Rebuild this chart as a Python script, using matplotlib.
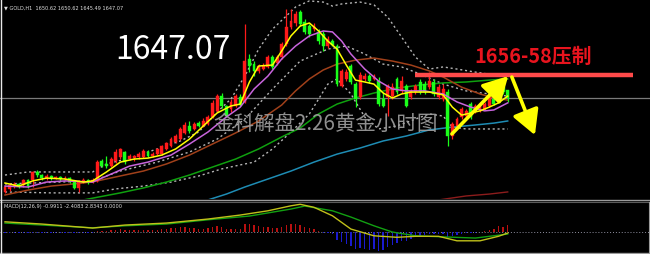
import matplotlib
matplotlib.use('Agg')
import matplotlib.pyplot as plt
import numpy as np

# ---------------- data (GOLD H1) ----------------
open_ = [1607.3,1608.6,1609.8,1610.7,1610.3,1612.4,1612.4,1615.8,1614.5,1613.2,
         1614.1,1613.2,1613.7,1612.8,1613.2,1612.0,1609.0,1611.5,1612.4,1611.5,
         1612.0,1620.5,1619.2,1618.3,1620.5,1622.2,1624.3,1621.3,1621.7,1622.2,
         1622.2,1624.3,1622.6,1623.4,1623.4,1625.6,1626.9,1628.6,1629.8,1632.4,
         1635.4,1634.1,1636.6,1635.4,1636.2,1639.2,1641.8,1648.1,1643.9,1642.6,
         1643.9,1647.7,1645.6,1663.9,1661.7,1658.8,1659.6,1660.5,1664.7,1662.2,
         1664.7,1670.3,1677.5,1679.2,1683.9,1679.6,1677.9,1676.6,1675.4,1674.5,
         1669.4,1671.5,1669.4,1652.4,1655.4,1660.9,1653.2,1647.7,1655.4,1656.6,
         1655.4,1654.5,1646.9,1647.7,1648.1,1655.4,1650.3,1652.4,1647.7,1649.8,
         1654.1,1653.2,1651.9,1654.1,1647.7,1646.9,1649.8,1631.1,1635.4,1639.2,
         1639.6,1644.7,1641.8,1641.8,1642.6,1643.9,1646.9,1645.6,1651.9,1650.62]
high = [1610.3,1611.1,1611.5,1611.1,1612.8,1612.8,1616.2,1616.6,1614.9,1614.9,
        1614.5,1614.1,1614.1,1614.1,1613.7,1612.4,1612.4,1613.2,1612.8,1613.2,
        1620.9,1621.3,1622.6,1622.2,1625.6,1626.0,1624.7,1623.4,1623.0,1624.3,
        1625.6,1625.2,1624.3,1626.0,1627.3,1628.6,1630.7,1631.9,1634.9,1637.1,
        1637.5,1637.1,1637.5,1638.8,1640.0,1646.4,1649.0,1649.4,1644.3,1646.9,
        1649.0,1649.0,1678.8,1666.0,1663.0,1661.7,1662.2,1665.6,1665.6,1665.6,
        1671.1,1685.2,1685.2,1684.3,1684.7,1680.9,1678.8,1679.2,1676.6,1675.8,
        1673.7,1672.4,1670.3,1659.6,1659.6,1661.7,1654.1,1658.3,1657.9,1657.5,
        1657.5,1656.2,1649.8,1653.2,1653.7,1656.2,1656.6,1653.2,1651.1,1653.2,
        1655.4,1654.5,1658.3,1655.4,1653.2,1653.2,1651.1,1637.1,1639.2,1643.4,
        1642.6,1645.6,1644.7,1645.2,1645.6,1648.6,1647.7,1653.2,1652.8,1650.62]
low = [1606.9,1607.7,1609.0,1609.0,1609.4,1609.0,1609.4,1613.7,1612.4,1612.4,
       1612.4,1612.8,1612.0,1612.4,1611.1,1608.6,1607.3,1611.1,1610.7,1611.1,
       1611.5,1617.9,1617.5,1617.9,1619.6,1621.3,1619.2,1620.9,1620.5,1621.3,
       1621.7,1622.2,1622.2,1623.0,1623.0,1625.2,1626.4,1628.1,1629.4,1631.9,
       1632.4,1633.7,1634.9,1634.9,1635.8,1638.8,1641.3,1643.0,1639.2,1641.3,
       1643.4,1643.9,1645.2,1658.3,1656.6,1657.9,1659.2,1660.0,1659.6,1661.3,
       1663.9,1669.4,1676.6,1677.9,1677.9,1674.5,1673.2,1675.8,1670.3,1667.3,
       1668.6,1669.4,1652.4,1651.9,1654.5,1653.2,1643.4,1646.9,1654.5,1653.7,
       1654.9,1643.9,1643.4,1639.6,1646.9,1649.0,1649.4,1643.4,1646.9,1649.0,
       1649.0,1649.0,1651.1,1648.1,1646.9,1646.0,1626.9,1629.8,1634.5,1638.3,
       1638.8,1638.3,1640.9,1641.3,1642.2,1643.4,1644.3,1645.2,1649.0,1645.49]
close = [1609.4,1610.3,1610.7,1609.8,1612.4,1609.8,1615.8,1614.5,1613.2,1614.1,
         1613.2,1613.7,1612.8,1613.2,1612.0,1609.0,1611.5,1612.4,1611.5,1612.4,
         1620.0,1618.3,1618.3,1621.3,1624.3,1625.6,1620.0,1622.6,1622.6,1623.4,
         1624.7,1622.6,1623.4,1625.6,1626.9,1628.1,1629.8,1631.1,1634.1,1635.8,
         1633.2,1636.2,1635.4,1637.5,1639.2,1645.2,1648.1,1643.9,1639.6,1645.6,
         1648.1,1644.3,1663.0,1660.9,1658.8,1660.9,1660.9,1664.7,1660.5,1664.7,
         1670.3,1677.5,1680.0,1683.0,1678.8,1675.4,1674.5,1677.9,1671.5,1669.4,
         1672.4,1669.8,1653.2,1658.8,1658.3,1654.1,1646.9,1657.1,1656.6,1654.5,
         1656.6,1644.7,1643.9,1652.4,1651.9,1649.8,1654.5,1643.9,1650.3,1652.4,
         1649.8,1649.8,1654.5,1649.0,1651.9,1651.1,1631.1,1636.2,1638.3,1642.6,
         1641.8,1639.2,1643.9,1643.9,1644.7,1647.7,1644.7,1652.4,1649.8,1647.07]

# moving averages (bar index, price)
ma_fast_idx = [0,3,6,9,13,17,19,22,25,28,31,34,37,40,43,46,49,51,53,55,58,60,62,64,66,68,70,72,74,76,78,80,82,84,86,88,92,95,97,99,101,103,105,107,109]
ma_fast = [1611.1,1609.8,1612.0,1613.2,1612.8,1611.5,1612.0,1615.8,1620.0,1621.3,1621.7,1623.0,1625.6,1629.8,1635.4,1640.9,1643.9,1644.7,1654.1,1660.9,1661.3,1667.3,1673.7,1677.9,1679.2,1675.8,1671.5,1668.1,1661.3,1654.9,1654.1,1653.2,1649.4,1647.3,1649.0,1649.8,1649.8,1648.6,1643.4,1640.0,1640.9,1641.8,1643.4,1645.2,1648.1]
ma_mid_idx = [0,5,9,13,19,23,27,31,36,40,44,48,51,54,57,60,63,66,69,71,73,75,78,81,84,87,91,95,98,101,104,106,109]
ma_mid = [1609.8,1609.4,1611.5,1612.0,1611.5,1614.9,1618.3,1620.0,1623.0,1627.7,1632.8,1639.2,1643.4,1651.1,1656.6,1663.9,1669.4,1673.7,1675.8,1675.4,1671.5,1666.0,1659.6,1654.5,1651.1,1650.3,1650.3,1649.0,1645.6,1643.4,1641.8,1642.2,1645.2]
ma_brown_idx = [0,5,10,17,20,25,30,35,40,45,50,55,60,63,66,69,72,76,80,84,88,92,95,99,103,106,109]
ma_brown = [1606.0,1608.1,1609.8,1611.1,1612.0,1614.1,1616.2,1619.2,1623.0,1627.7,1632.4,1637.5,1644.3,1650.3,1655.4,1659.2,1661.7,1663.4,1664.3,1663.0,1661.3,1658.8,1656.2,1651.9,1649.0,1647.3,1646.4]
ma_green_idx = [17,25,30,35,40,45,50,55,60,64,68,72,76,80,85,90,95,100,105,109]
ma_green = [1603.9,1606.9,1609.0,1611.5,1614.5,1617.9,1621.3,1625.6,1630.7,1634.5,1640.5,1644.7,1647.3,1649.4,1651.5,1652.8,1653.7,1654.1,1654.9,1655.4]
ma_teal_idx = [44,48,52,57,62,67,72,77,82,87,92,97,102,106,109]
ma_teal = [1603.9,1606.4,1609.4,1612.8,1616.2,1620.0,1623.4,1626.0,1629.0,1631.1,1633.7,1634.9,1635.8,1636.6,1637.5]
ma_dred_idx = [94,100,105,109]
ma_dred = [1603.9,1605.6,1606.4,1607.3]

bb_up_idx = [0,5,10,15,19,22,27,33,38,42,46,49,52,55,58,61,63,66,69,71,73,77,80,83,86,89,92,95,98,102,106,109]
bb_up = [1614.5,1615.8,1615.8,1615.8,1615.8,1619.2,1621.7,1625.6,1629.0,1632.8,1641.3,1646.9,1656.6,1668.1,1676.6,1682.2,1686.0,1688.6,1688.1,1686.4,1687.3,1688.1,1686.9,1681.7,1673.2,1664.7,1659.6,1660.5,1659.6,1658.3,1657.1,1656.6]
bb_mid_idx = [0,19,25,33,40,46,52,58,64,70,74,78,82,86,90,95,100,105,109]
bb_mid = [1610.7,1612.0,1616.2,1620.0,1624.3,1629.8,1638.3,1651.1,1663.0,1668.1,1669.4,1666.0,1661.7,1660.5,1657.5,1653.2,1650.3,1649.0,1648.1]
bb_lo_idx = [0,10,19,24,30,36,42,47,51,54,58,62,66,70,72,75,78,81,85,89,92,95,97,100,105,109]
bb_lo = [1607.3,1606.9,1606.9,1608.6,1609.8,1611.5,1614.1,1617.1,1618.8,1620.0,1625.6,1632.8,1640.5,1653.2,1655.4,1649.0,1639.2,1634.1,1635.4,1638.3,1640.5,1639.6,1634.9,1634.1,1634.1,1634.1]

# MACD(12,26,9)
macd_main_idx = [0,8,19,26,35,44,51,57,62,64,67,71,75,80,85,89,94,98,103,107,109]
macd_main = [4.2,3.3,1.7,2.9,3.7,5.3,6.9,8.6,10.6,11.2,10.0,6.6,1.3,-1.4,-2.0,-1.6,-1.6,-3.4,-3.4,-1.6,-0.3]
macd_sig_idx = [0,8,19,26,35,44,53,62,65,71,75,80,84,89,96,102,109]
macd_sig = [3.7,2.9,1.8,2.6,3.3,5.0,6.5,9.3,10.5,8.6,6.1,2.6,0.1,-1.4,-1.9,-2.3,-0.7]
macd_hist = [-0.3]*20 + [0.4,0.4,0.6,0.8,1.0,1.2,0.8,0.8,0.8,0.8,
             1.0,0.8,0.8,1.0,1.2,1.4,1.6,1.8,2.0,2.0,
             1.6,1.6,1.4,1.4,1.6,2.0,2.4,2.0,1.2,1.2,
             1.4,1.2,3.2,3.2,2.8,2.4,2.0,2.0,1.6,1.6,
             2.0,2.8,3.2,3.2,2.8,2.0,1.6,1.2,0.4,-0.4,
             -0.4,-0.8,-3.2,-4.0,-4.8,-5.6,-6.8,-6.4,-6.8,-7.2,
             -6.8,-7.6,-7.2,-6.0,-5.2,-4.4,-3.6,-3.6,-2.8,-2.0,
             -1.6,-1.2,-0.8,-0.8,-0.8,-0.8,-2.0,-1.6,-1.2,-0.8,
             -0.4,-0.4,-0.2,0.2,0.4,0.8,1.2,2.4,2.0,2.8]

resist_price = 1657.1
watermark = "金科解盘2.26黄金小时图"
big_label = "1647.07"
resist_label = "1656-58压制"
info_label = "▼ GOLD,H1  1650.62 1650.62 1645.49 1647.07"
macd_label = "MACD(12,26,9) -0.9911 -2.4083 2.8343 0.0000"

# ---------------- figure ----------------
W, H = 650, 255
fig = plt.figure(figsize=(6.5, 2.55), dpi=100, facecolor='black')

n = len(close)
idx = np.arange(n)
step = 4.612
x0 = 5.0
xlim = (-x0 / step, (W - x0) / step)

ax = fig.add_axes([0, 1 - 200 / H, 1, 200 / H])
ax.set_facecolor('black')
ax.set_xlim(*xlim)
ax.set_ylim(1604.3, 1689.41)
ax.axis('off')

axm = fig.add_axes([0, 2 / H, 1, 50 / H])
axm.set_facecolor('black')
axm.set_xlim(*xlim)
axm.set_ylim(-7.88, 12.12)
axm.axis('off')

o = np.array(open_); c = np.array(close); h = np.array(high); l = np.array(low)
up = c >= o
cols = np.where(up, '#ff1a1a', '#1aff1a')

# bollinger (dotted gray)
for xi, yi in ((bb_up_idx, bb_up), (bb_mid_idx, bb_mid), (bb_lo_idx, bb_lo)):
    ax.plot(xi, yi, color='#b4b4b4', lw=1.0, ls=(0, (1.5, 2)), zorder=2)

ax.plot(ma_dred_idx, ma_dred, color='#8c1c1c', lw=1.0, zorder=2)
ax.plot(ma_teal_idx, ma_teal, color='#1e8cb4', lw=1.1, zorder=2)
ax.plot(ma_green_idx, ma_green, color='#0fa00f', lw=1.1, zorder=2)
ax.plot(ma_brown_idx, ma_brown, color='#a0401a', lw=1.1, zorder=2)

# bid line
ax.axhline(close[-1], color='#7a7a7a', lw=0.9, zorder=1)

# candles
ax.vlines(idx, l, h, colors=cols, lw=0.9, zorder=3)
body = np.where(np.abs(c - o) < 0.25, 0.25, c - o)
ax.bar(idx, body, bottom=o, width=0.62, color=cols, edgecolor=cols, lw=0.3, zorder=4)

ax.plot(ma_mid_idx, ma_mid, color='#c864dc', lw=1.1, zorder=5)
ax.plot(ma_fast_idx, ma_fast, color='#ffff00', lw=1.1, zorder=5)

# resistance line
ax.plot([88.9, 136.2], [resist_price, resist_price], color='#ff4a4a', lw=3.2,
        solid_capstyle='butt', zorder=6)

# arrows
ap = dict(arrowstyle='-|>,head_length=1.0,head_width=0.55', color='#ffff00', lw=2.6,
          shrinkA=0, shrinkB=0, mutation_scale=15)
ax.annotate('', xy=(109.1, 1656.6), xytext=(96.9, 1632.0), arrowprops=ap, zorder=7)
ax.annotate('', xy=(114.9, 1631.5), xytext=(109.9, 1656.2), arrowprops=ap, zorder=7)

# texts
ax.text(36.4, 1668.1, big_label, color='white', fontsize=23, ha='center', va='center',
        family=['Noto Sans CJK SC', 'DejaVu Sans'], zorder=8)
ax.text(114.5, 1665.2, resist_label, color='#e8141e', fontsize=14.3, fontweight='bold',
        ha='center', va='center', family=['Noto Sans CJK SC', 'DejaVu Sans'], zorder=8)
ax.text(69.6, 1636.6, watermark, color='#a0a0a0', alpha=0.9, fontsize=14.8,
        ha='center', va='center', family=['Noto Sans CJK SC', 'DejaVu Sans'], zorder=9)
fig.text(4 / W, 1 - 8 / H, info_label, color='#e0e0e0', fontsize=3.6,
         ha='left', va='center', family=['DejaVu Sans'])

# MACD pane
axm.axhline(0, color='#9090a0', lw=0.7, ls=(0, (1, 2)), zorder=1)
hist = np.array(macd_hist)
axm.bar(idx, hist, width=0.3, color=np.where(hist >= 0, '#b81010', '#1a1ad0'), zorder=2)
axm.plot(macd_sig_idx, macd_sig, color='#12a012', lw=1.0, zorder=3)
axm.plot(macd_main_idx, macd_main, color='#c0c01a', lw=1.0, zorder=3)
fig.text(4 / W, 1 - 207 / H, macd_label, color='#e0e0e0', fontsize=3.6,
         ha='left', va='center', family=['DejaVu Sans'])

# frame lines
fig.add_artist(plt.Line2D([0, 1], [1 - 200.5 / H, 1 - 200.5 / H], color='#9a9a9a', lw=1.0))
fig.add_artist(plt.Line2D([0, 1], [1 - 202.5 / H, 1 - 202.5 / H], color='#5a5a5a', lw=0.8))
fig.add_artist(plt.Line2D([0, 1], [1 - 253.5 / H, 1 - 253.5 / H], color='#9a9a9a', lw=1.0))
fig.add_artist(plt.Line2D([0.8 / W, 0.8 / W], [1 - 254 / H, 1], color='#e8e8e8', lw=1.0))
fig.add_artist(plt.Line2D([648.5 / W, 648.5 / W], [1 - 254 / H, 1 - 203 / H], color='#9a9a9a', lw=0.8))

fig.savefig('out.png', dpi=100, facecolor='black')
